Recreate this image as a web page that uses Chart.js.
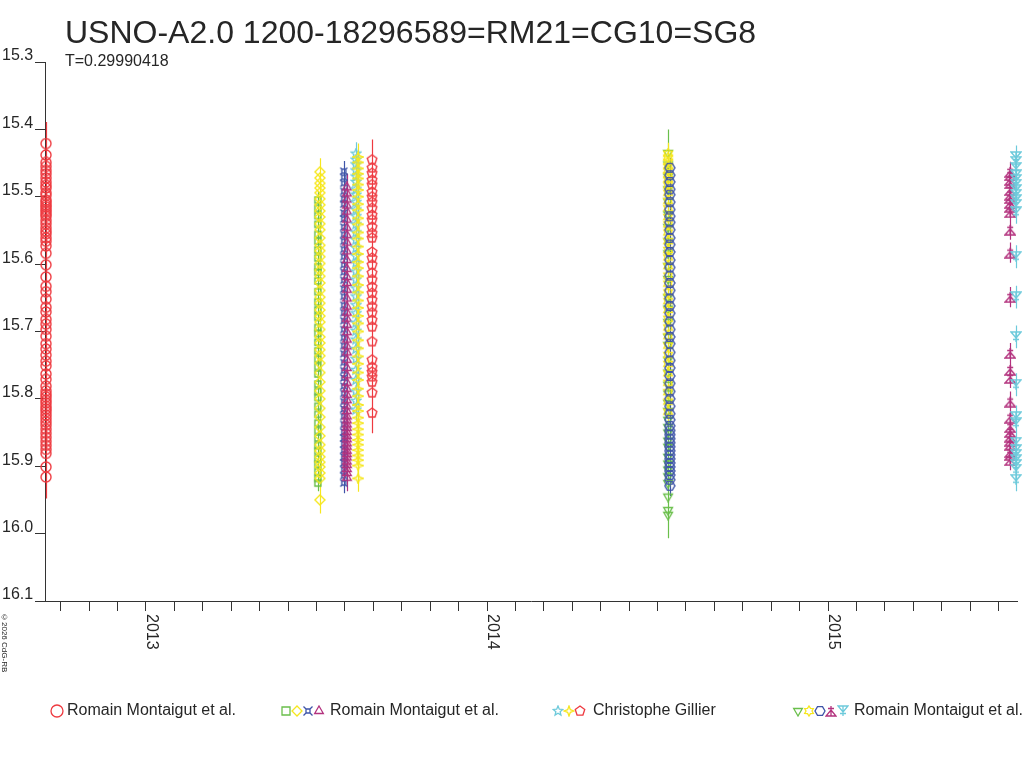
<!DOCTYPE html>
<html>
<head>
<meta charset="utf-8">
<script src="https://cdn.jsdelivr.net/npm/chart.js@4.4.1/dist/chart.umd.min.js"></script>
<style>
  html, body { margin: 0; padding: 0; background: #fff; }
  #wrap { position: relative; width: 1024px; height: 768px; font-family: "Liberation Sans", Arial, sans-serif; color: #262626; }
  #chart { position: absolute; left: 0; top: 0; }
  .title { position: absolute; left: 65px; top: 16px; font-size: 32px; line-height: 32px; white-space: nowrap; }
  .sub { position: absolute; left: 65px; top: 53px; font-size: 16px; line-height: 16px; white-space: nowrap; }
  .copy { position: absolute; left: 0px; top: 613px; font-size: 8px; line-height: 9px; writing-mode: vertical-rl; white-space: nowrap; }
  .lg-text { position: absolute; top: 702px; font-size: 16px; line-height: 16px; white-space: nowrap; }
  .lg-mark { position: absolute; }
</style>
</head>
<body>
<div id="wrap">
  <canvas id="chart" width="1024" height="768"></canvas>
  <div class="title">USNO-A2.0 1200-18296589=RM21=CG10=SG8</div>
  <div class="sub">T=0.29990418</div>
  <div class="copy">©2026 CdG-RB</div>
</div>
<script>
// magnitudes, one array per observing set
const redCircMag = [15.421, 15.438, 15.449, 15.455, 15.461, 15.466, 15.472, 15.478, 15.483, 15.487, 15.494, 15.498,
  15.505, 15.508, 15.512, 15.515, 15.519, 15.522, 15.526, 15.529, 15.535, 15.540, 15.546, 15.551, 15.555, 15.561,
  15.566, 15.573, 15.584, 15.601, 15.619, 15.633, 15.641, 15.652, 15.664, 15.671, 15.682, 15.689, 15.697, 15.707,
  15.718, 15.726, 15.735, 15.744, 15.751, 15.763, 15.771, 15.781, 15.788, 15.793, 15.797, 15.802, 15.806, 15.811,
  15.815, 15.819, 15.824, 15.829, 15.834, 15.839, 15.845, 15.851, 15.857, 15.863, 15.869, 15.875, 15.881, 15.901, 15.916];
const greenSqMag = [15.505, 15.517, 15.528, 15.541, 15.556, 15.566, 15.579, 15.591, 15.604, 15.612, 15.625, 15.641,
  15.656, 15.668, 15.679, 15.694, 15.703, 15.716, 15.729, 15.741, 15.752, 15.763, 15.778, 15.789, 15.798, 15.811,
  15.823, 15.836, 15.847, 15.858, 15.869, 15.878, 15.889, 15.897, 15.908, 15.918, 15.925];
const yellowDiamMag = [15.463, 15.472, 15.480, 15.487, 15.494, 15.503, 15.512, 15.521, 15.530, 15.540, 15.549, 15.561,
  15.572, 15.580, 15.589, 15.599, 15.609, 15.618, 15.628, 15.639, 15.649, 15.658, 15.668, 15.677, 15.686, 15.697,
  15.708, 15.717, 15.727, 15.736, 15.747, 15.761, 15.775, 15.788, 15.800, 15.814, 15.827, 15.842, 15.855, 15.868,
  15.877, 15.886, 15.894, 15.901, 15.910, 15.918, 15.950];
const blueCurMag = [15.462, 15.471, 15.480, 15.492, 15.503, 15.511, 15.524, 15.533, 15.545, 15.556, 15.566, 15.578,
  15.589, 15.601, 15.612, 15.624, 15.637, 15.648, 15.661, 15.672, 15.684, 15.697, 15.709, 15.721, 15.733, 15.746,
  15.758, 15.769, 15.781, 15.792, 15.804, 15.815, 15.826, 15.838, 15.849, 15.858, 15.867, 15.876, 15.886, 15.895,
  15.905, 15.914, 15.925];
const purpleTriMag = [15.486, 15.495, 15.504, 15.513, 15.522, 15.534, 15.546, 15.557, 15.568, 15.581, 15.594, 15.607,
  15.619, 15.628, 15.638, 15.651, 15.663, 15.672, 15.681, 15.690, 15.701, 15.712, 15.722, 15.731, 15.742, 15.754,
  15.765, 15.776, 15.785, 15.794, 15.802, 15.811, 15.818, 15.826, 15.832, 15.838, 15.843, 15.849, 15.855, 15.860,
  15.866, 15.871, 15.877, 15.882, 15.887, 15.893, 15.898, 15.904, 15.910, 15.917];
const cyanStarMag = [15.436, 15.445, 15.452, 15.461, 15.470, 15.478, 15.489, 15.497, 15.508, 15.519, 15.529, 15.541,
  15.553, 15.564, 15.576, 15.588, 15.598, 15.611, 15.623, 15.636, 15.648, 15.661, 15.673, 15.687, 15.699, 15.712,
  15.726, 15.741, 15.757, 15.772, 15.789, 15.803, 15.816];
const yellowFourMag = [15.441, 15.449, 15.458, 15.466, 15.473, 15.482, 15.490, 15.500, 15.511, 15.520, 15.532, 15.541,
  15.553, 15.562, 15.574, 15.585, 15.597, 15.606, 15.618, 15.631, 15.642, 15.654, 15.665, 15.677, 15.688, 15.700,
  15.713, 15.725, 15.737, 15.748, 15.761, 15.772, 15.785, 15.796, 15.809, 15.818, 15.828, 15.836, 15.845, 15.853,
  15.861, 15.868, 15.876, 15.884, 15.891, 15.899, 15.918];
const redPentMag = [15.445, 15.457, 15.465, 15.475, 15.482, 15.493, 15.500, 15.508, 15.517, 15.527, 15.534, 15.545,
  15.554, 15.561, 15.582, 15.591, 15.601, 15.613, 15.623, 15.634, 15.643, 15.653, 15.663, 15.672, 15.683, 15.693,
  15.715, 15.742, 15.753, 15.760, 15.767, 15.775, 15.791, 15.821];
const greenDownMag = [15.435, 15.452, 15.470, 15.489, 15.507, 15.526, 15.545, 15.566, 15.584, 15.603, 15.622, 15.649,
  15.666, 15.686, 15.708, 15.720, 15.742, 15.761, 15.779, 15.792, 15.806, 15.818, 15.831, 15.842, 15.850, 15.862,
  15.871, 15.886, 15.896, 15.905, 15.915, 15.925, 15.945, 15.965, 15.972];
const yellowSixMag = [15.436, 15.442, 15.448, 15.455, 15.461, 15.468, 15.474, 15.483, 15.494, 15.506, 15.517, 15.530,
  15.541, 15.553, 15.566, 15.579, 15.590, 15.603, 15.617, 15.629, 15.642, 15.655, 15.668, 15.681, 15.694, 15.707,
  15.721, 15.735, 15.748, 15.762, 15.776, 15.790, 15.804, 15.819];
const blueHexMag = [15.457, 15.468, 15.478, 15.489, 15.497, 15.508, 15.519, 15.529, 15.538, 15.549, 15.561, 15.571,
  15.582, 15.594, 15.605, 15.617, 15.628, 15.639, 15.651, 15.662, 15.673, 15.685, 15.697, 15.708, 15.718, 15.731,
  15.743, 15.754, 15.766, 15.777, 15.789, 15.800, 15.811, 15.822, 15.831, 15.840, 15.847, 15.853, 15.859, 15.865,
  15.871, 15.877, 15.883, 15.889, 15.895, 15.901, 15.907, 15.913, 15.920, 15.929];
const purpleUraMag = [15.463, 15.468, 15.475, 15.480, 15.490, 15.497, 15.502, 15.509, 15.515, 15.523, 15.549, 15.583,
  15.649, 15.732, 15.757, 15.769, 15.804, 15.828, 15.842, 15.849, 15.856, 15.862, 15.868, 15.879, 15.883, 15.891];
const cyanAstMag = [15.441, 15.448, 15.457, 15.468, 15.475, 15.482, 15.490, 15.497, 15.505, 15.512, 15.523, 15.589,
  15.649, 15.708, 15.779, 15.827, 15.836, 15.865, 15.876, 15.883, 15.891, 15.898, 15.905, 15.920];

// date (decimal year) and typical error of each set, same order as below
const obsDate = [2012.707, 2013.504, 2013.510, 2013.580, 2013.589, 2013.616, 2013.622, 2013.663,
  2014.531, 2014.531, 2014.536, 2015.534, 2015.551];
const magErr = [0.032, 0.012, 0.02, 0.015, 0.02, 0.017, 0.02, 0.03, 0.035, 0.016, 0.015, 0.015, 0.017];

const magTicks = [15.3, 15.4, 15.5, 15.6, 15.7, 15.8, 15.9, 16.0, 16.1];
const yearTicks = [2013, 2014, 2015];
const legendLabels = ['Romain Montaigut et al.', 'Romain Montaigut et al.', 'Christophe Gillier', 'Romain Montaigut et al.'];
const legendGroups = [[0], [1, 2, 3, 4], [5, 6, 7], [8, 9, 10, 11, 12]];

const RED = '#ee3a40', GREEN = '#6abf4b', YELLOW = '#f6e71e', BLUE = '#3e54a8', PURPLE = '#b3327e', CYAN = '#6dcadb';

const sets = [
  { mags: redCircMag, shape: 'circle', color: RED },
  { mags: greenSqMag, shape: 'square', color: GREEN },
  { mags: yellowDiamMag, shape: 'diamond', color: YELLOW },
  { mags: blueCurMag, shape: 'currency', color: BLUE },
  { mags: purpleTriMag, shape: 'triUp', color: PURPLE },
  { mags: cyanStarMag, shape: 'star5', color: CYAN },
  { mags: yellowFourMag, shape: 'star4', color: YELLOW },
  { mags: redPentMag, shape: 'pentagon', color: RED },
  { mags: greenDownMag, shape: 'triDown', color: GREEN },
  { mags: yellowSixMag, shape: 'star6', color: YELLOW },
  { mags: blueHexMag, shape: 'hexagon', color: BLUE },
  { mags: purpleUraMag, shape: 'uranus', color: PURPLE },
  { mags: cyanAstMag, shape: 'uranusDown', color: CYAN }
];

function makeMarker(shape, color, s, lw) {
  const c = document.createElement('canvas');
  c.width = s; c.height = s;
  const g = c.getContext('2d');
  g.strokeStyle = color;
  g.lineWidth = lw;
  const m = s / 2, r = s / 2 - 1;
  const poly = (n, rot, rad) => {
    for (let k = 0; k < n; k++) {
      const a = rot + k * 2 * Math.PI / n;
      const px = m + rad * Math.cos(a), py = m + rad * Math.sin(a);
      k ? g.lineTo(px, py) : g.moveTo(px, py);
    }
    g.closePath();
  };
  const star = (n, ro, ri) => {
    for (let k = 0; k < 2 * n; k++) {
      const a = -Math.PI / 2 + k * Math.PI / n;
      const rr = k % 2 ? ri : ro;
      const px = m + rr * Math.cos(a), py = m + rr * Math.sin(a);
      k ? g.lineTo(px, py) : g.moveTo(px, py);
    }
    g.closePath();
  };
  g.beginPath();
  switch (shape) {
    case 'circle': g.arc(m, m, r, 0, 2 * Math.PI); break;
    case 'square': g.rect(m - r + 1, m - r + 1, 2 * r - 2, 2 * r - 2); break;
    case 'diamond': poly(4, -Math.PI / 2, r); break;
    case 'currency':
      g.rect(m - 2, m - 2, 4, 4);
      g.moveTo(m - 2, m - 2); g.lineTo(m - r + 0.5, m - r + 0.5);
      g.moveTo(m + 2, m - 2); g.lineTo(m + r - 0.5, m - r + 0.5);
      g.moveTo(m - 2, m + 2); g.lineTo(m - r + 0.5, m + r - 0.5);
      g.moveTo(m + 2, m + 2); g.lineTo(m + r - 0.5, m + r - 0.5);
      break;
    case 'triUp': poly(3, -Math.PI / 2, r); break;
    case 'triDown': poly(3, Math.PI / 2, r); break;
    case 'star5': star(5, r, r * 0.45); break;
    case 'star4': star(4, r, r * 0.38); break;
    case 'star6': star(6, r, r * 0.6); break;
    case 'pentagon': poly(5, -Math.PI / 2, r); break;
    case 'hexagon': poly(6, 0, r); break;
    case 'uranus':
      g.moveTo(m, m - 1); g.lineTo(m + r, m + r); g.lineTo(m - r, m + r); g.closePath();
      g.moveTo(m - 3, m - 2.5); g.lineTo(m + 3, m - 2.5);
      g.moveTo(m, m - r); g.lineTo(m, m + r);
      break;
    case 'uranusDown':
      g.moveTo(m, m + 1); g.lineTo(m + r, m - r); g.lineTo(m - r, m - r); g.closePath();
      g.moveTo(m - 3, m + 2.5); g.lineTo(m + 3, m + 2.5);
      g.moveTo(m, m - r); g.lineTo(m, m + r);
      break;
  }
  g.stroke();
  return c;
}

const datasets = sets.map((s, i) => ({
  label: s.shape,
  data: s.mags.map(v => ({ x: obsDate[i], y: v })),
  err: magErr[i],
  borderColor: s.color,
  backgroundColor: s.color,
  pointStyle: makeMarker(s.shape, s.color, (s.shape === 'square' || s.shape === 'currency') ? 10 : 12, 1.4),
  pointRadius: 5,
  pointHoverRadius: 5,
  showLine: false,
  clip: false,
  order: -i
}));

const extras = {
  id: 'extras',
  beforeDatasetsDraw(chart) {
    const ctx = chart.ctx, ys = chart.scales.y;
    chart.data.datasets.forEach((ds, i) => {
      const meta = chart.getDatasetMeta(i);
      ctx.save();
      ctx.strokeStyle = ds.borderColor;
      ctx.lineWidth = 1.2;
      ctx.beginPath();
      meta.data.forEach((pt, j) => {
        const v = ds.data[j].y;
        const px = Math.round(pt.x) + 0.5;
        ctx.moveTo(px, ys.getPixelForValue(v - ds.err));
        ctx.lineTo(px, ys.getPixelForValue(v + ds.err));
      });
      ctx.stroke();
      ctx.restore();
    });
  },
  afterDraw(chart) {
    const ctx = chart.ctx, xs = chart.scales.x;
    ctx.save();
    ctx.fillStyle = '#262626';
    ctx.font = '16px "Liberation Sans", Arial, sans-serif';
    ctx.textAlign = 'left';
    ctx.textBaseline = 'alphabetic';
    yearTicks.forEach(yr => {
      const px = xs.getPixelForValue(yr);
      ctx.save();
      ctx.translate(px + 1, chart.chartArea.bottom + 13);
      ctx.rotate(Math.PI / 2);
      ctx.fillText(String(yr), 0, 0);
      ctx.restore();
    });
    ctx.restore();
  }
};

new Chart(document.getElementById('chart'), {
  type: 'scatter',
  data: { datasets },
  options: {
    responsive: false,
    devicePixelRatio: 1,
    animation: false,
    events: [],
    layout: { padding: { left: 2, top: 62, right: 7, bottom: 157 } },
    plugins: { legend: { display: false }, tooltip: { enabled: false }, title: { display: false } },
    scales: {
      x: {
        type: 'linear',
        min: 2012.704,
        max: 2015.554,
        bounds: 'data',
        afterBuildTicks: sc => {
          const t = [];
          for (let m = Math.ceil(sc.min * 12); m <= Math.floor(sc.max * 12); m++) t.push({ value: m / 12 });
          sc.ticks = t;
        },
        afterFit: sc => { sc.height = 10; },
        ticks: { display: false, autoSkip: false },
        grid: { display: true, drawOnChartArea: false, drawTicks: true, tickLength: 10, color: '#333' },
        border: { display: true, color: '#333', width: 1 }
      },
      y: {
        type: 'linear',
        reverse: true,
        min: 15.3,
        max: 16.1,
        bounds: 'data',
        afterBuildTicks: sc => { sc.ticks = magTicks.map(v => ({ value: v })); },
        afterFit: sc => { sc.width = 43; },
        ticks: {
          autoSkip: false,
          crossAlign: 'far',
          labelOffset: -6,
          padding: 0,
          color: '#262626',
          font: { family: '"Liberation Sans", Arial, sans-serif', size: 16 },
          callback: v => Number(v).toFixed(1)
        },
        grid: { display: true, drawOnChartArea: false, drawTicks: true, tickLength: 10, color: '#333' },
        border: { display: true, color: '#333', width: 1 }
      }
    }
  },
  plugins: [extras]
});

// legend below the plot: marker groups plus author names
const wrap = document.getElementById('wrap');
const legendStart = [50, 280, 552, 792];
const legendTextX = [67, 330, 593, 854];
legendGroups.forEach((grp, gi) => {
  let x = legendStart[gi];
  grp.forEach(si => {
    const size = sets[si].shape === 'circle' ? 14 : 12;
    const mk = makeMarker(sets[si].shape, sets[si].color, size, 1.3);
    mk.className = 'lg-mark';
    mk.style.left = (x - 0.5) + 'px';
    mk.style.top = (711 - size / 2) + 'px';
    wrap.appendChild(mk);
    x += 11.3;
  });
  const t = document.createElement('div');
  t.className = 'lg-text';
  t.style.left = legendTextX[gi] + 'px';
  t.textContent = legendLabels[gi];
  wrap.appendChild(t);
});
</script>
</body>
</html>
